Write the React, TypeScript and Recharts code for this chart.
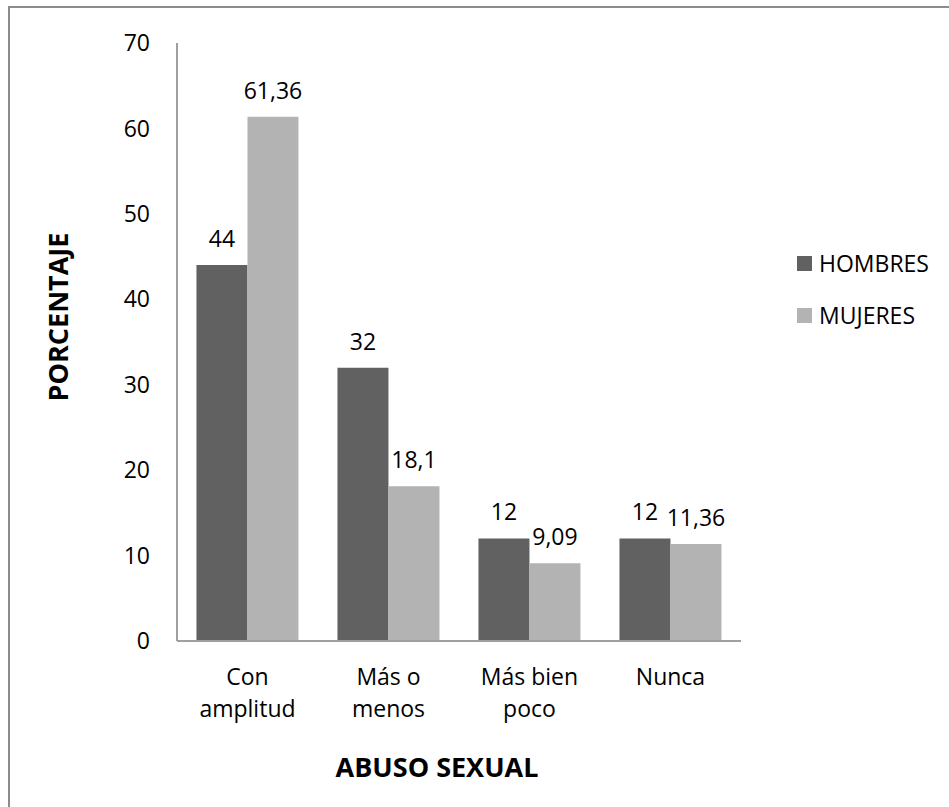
import React from "react";
import { BarChart, Bar, XAxis, YAxis, Legend, LabelList, Label } from "recharts";

const categories = ["Con\namplitud", "Más o\nmenos", "Más bien\npoco", "Nunca"];
const hombres = [44, 32, 12, 12];
const mujeres = [61.36, 18.1, 9.09, 11.36];
const yTicks = [0, 10, 20, 30, 40, 50, 60, 70];

const data = categories.map((c, i) => ({ name: c, hombres: hombres[i], mujeres: mujeres[i] }));

const FONT = "'Open Sans', sans-serif";
const DARK = "#616161";
const LIGHT = "#b3b3b3";
const AXIS = "#a0a0a0";

const fmt = (v: any) => String(v).replace(".", ",");

const CategoryTick = ({ x, y, payload }: any) => {
  const lines = String(payload.value).split("\n");
  return (
    <text x={x} y={y} textAnchor="middle" fill="#000" fontSize={23} fontFamily={FONT}>
      {lines.map((l, i) => (
        <tspan key={i} x={x} dy={i === 0 ? 44 : 32}>{l}</tspan>
      ))}
    </text>
  );
};

const LegendBox = ({ payload }: any) => (
  <div style={{ fontFamily: FONT, fontSize: 23, color: "#000" }}>
    {(payload || []).map((p: any) => (
      <div key={p.value} style={{ display: "flex", alignItems: "center", height: 52 }}>
        <span style={{ width: 15, height: 15, background: p.color, marginRight: 7, display: "inline-block" }} />
        <span>{p.value}</span>
      </div>
    ))}
  </div>
);

export default function App() {
  return (
    <div
      style={{
        position: "absolute",
        left: 8,
        top: 6,
        width: 941,
        height: 801,
        boxSizing: "border-box",
        borderTop: "2px solid #8c8c8c",
        borderLeft: "2px solid #8c8c8c",
        background: "#fff",
        fontFamily: FONT,
      }}
    >
      <BarChart
        width={939}
        height={799}
        data={data}
        margin={{ top: 35, right: 208, left: 107, bottom: 0 }}
        barCategoryGap="13.8%"
        barGap={0}
      >
        <XAxis
          dataKey="name"
          height={166}
          tickLine={false}
          tickSize={0}
          tickMargin={0}
          axisLine={{ stroke: AXIS, strokeWidth: 2 }}
          tick={<CategoryTick />}
          interval={0}
        >
          <Label
            content={() => (
              <text x={427} y={769} textAnchor="middle" fontSize={27} fontWeight="bold" fontFamily={FONT} fill="#000">
                ABUSO SEXUAL
              </text>
            )}
          />
        </XAxis>
        <YAxis
          width={60}
          domain={[0, 70]}
          ticks={yTicks}
          interval={0}
          tickLine={false}
          tickSize={6}
          tickMargin={21}
          axisLine={{ stroke: AXIS, strokeWidth: 2 }}
          tick={{ fill: "#000", fontSize: 23, fontFamily: FONT }}
        >
          <Label
            content={() => (
              <text
                x={47.5}
                y={309}
                transform="rotate(-90, 47.5, 309)"
                textAnchor="middle"
                dominantBaseline="central"
                fontSize={27}
                fontWeight="bold"
                fontFamily={FONT}
                fill="#000"
              >
                PORCENTAJE
              </text>
            )}
          />
        </YAxis>
        <Legend
          layout="vertical"
          align="center"
          verticalAlign="middle"
          content={<LegendBox />}
          wrapperStyle={{ left: 787, top: 229, width: 150 }}
        />
        <Bar dataKey="hombres" name="HOMBRES" fill={DARK} isAnimationActive={false}>
          <LabelList dataKey="hombres" position="top" offset={18} formatter={fmt} fill="#000" fontSize={23} fontFamily={FONT} />
        </Bar>
        <Bar dataKey="mujeres" name="MUJERES" fill={LIGHT} isAnimationActive={false}>
          <LabelList dataKey="mujeres" position="top" offset={18} formatter={fmt} fill="#000" fontSize={23} fontFamily={FONT} />
        </Bar>
      </BarChart>
    </div>
  );
}
